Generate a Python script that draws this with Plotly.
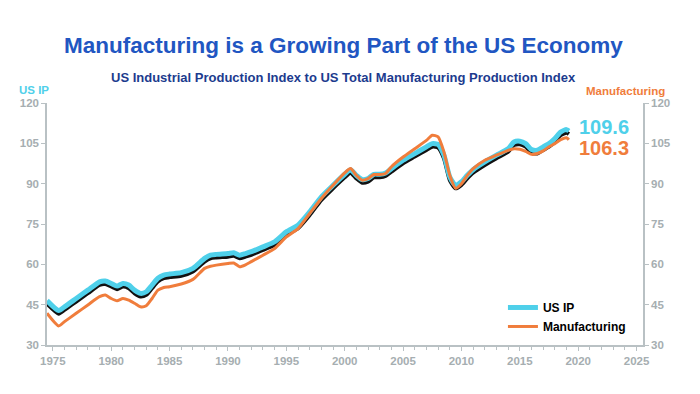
import plotly.graph_objects as go

years = [1974.5, 1975.5, 1976, 1977, 1978, 1979, 1979.5, 1980, 1980.5, 1981, 1981.5, 1982, 1982.5,
         1983, 1983.5, 1984, 1984.5, 1985, 1986, 1987, 1988, 1988.5, 1989, 1990, 1990.5, 1991, 1991.5,
         1992, 1993, 1994, 1995, 1996, 1997, 1998, 1999, 2000, 2000.5, 2001, 2001.5, 2002, 2002.5,
         2003, 2003.5, 2004, 2005, 2006, 2007, 2007.5, 2008, 2008.5, 2009, 2009.5, 2010, 2010.5,
         2011, 2012, 2013, 2014, 2014.5, 2015, 2015.5, 2016, 2016.5, 2017, 2017.5, 2018, 2018.5,
         2019, 2019.2]

us_ip = [46.5, 42.8, 44.2, 47.3, 50.4, 53.5, 53.8, 52.9, 51.9, 52.9, 52.3, 50.4, 49.2,
         49.8, 52.3, 54.8, 56.0, 56.4, 56.9, 58.5, 62.2, 63.4, 63.7, 64.0, 64.3, 63.4, 64.0,
         64.7, 66.5, 68.4, 72.1, 74.6, 79.5, 85.1, 89.4, 93.5, 95.2, 93.1, 91.5, 91.9, 93.5,
         93.5, 94.0, 95.6, 98.7, 101.2, 103.7, 104.9, 104.6, 100.6, 92.5, 89.4, 90.7, 93.1,
         95.2, 98.1, 100.6, 103.0, 105.5, 105.8, 104.9, 102.7, 102.4, 103.7, 104.9, 106.8, 109.2,
         110.1, 109.6]

manufacturing = [41.8, 37.1, 38.7, 41.8, 44.9, 48.0, 48.6, 47.3, 46.5, 47.3, 46.7, 45.5, 44.2,
                 44.6, 47.3, 50.4, 51.4, 51.7, 52.7, 54.4, 58.5, 59.3, 59.7, 60.3, 60.5, 59.1, 59.8,
                 61.0, 63.4, 65.9, 70.2, 73.3, 78.9, 84.5, 89.4, 94.0, 95.6, 93.1, 91.3, 91.9, 93.4,
                 93.4, 93.8, 96.3, 99.9, 103.0, 106.1, 108.0, 107.4, 101.8, 93.1, 88.3, 90.0, 93.1,
                 95.6, 98.7, 100.6, 102.4, 103.0, 102.8, 102.0, 100.9, 101.2, 102.2, 103.7, 104.9, 106.4,
                 107.1, 106.3]

x_ticks = [1975, 1980, 1985, 1990, 1995, 2000, 2005, 2010, 2015, 2020, 2025]
y_ticks = [30, 45, 60, 75, 90, 105, 120]

CYAN = "#4fd0ea"
ORANGE = "#f07d3c"
GRAY = "#a6aeb1"
AXIS = "#b9c1c4"
FONT = "Liberation Sans, Arial, sans-serif"

fig = go.Figure()

# shadow under the US IP line: same data, drawn on a hidden base axis whose range is slightly shifted
fig.add_trace(go.Scatter(x=years, y=us_ip, mode="lines", yaxis="y", showlegend=False,
                         line=dict(color="#111111", width=4, shape="spline", smoothing=0.6),
                         hoverinfo="skip"))
fig.add_trace(go.Scatter(x=years, y=us_ip, mode="lines", name="US IP", yaxis="y2",
                         line=dict(color=CYAN, width=5, shape="spline", smoothing=0.6)))
fig.add_trace(go.Scatter(x=years, y=manufacturing, mode="lines", name="Manufacturing", yaxis="y3",
                         line=dict(color=ORANGE, width=3, shape="spline", smoothing=0.6)))

tickfont = dict(family=FONT, size=11.5, color=GRAY, weight="bold")
yaxis_common = dict(range=[30, 120], tickvals=y_ticks, showgrid=False, zeroline=False,
                    showline=True, linecolor=AXIS, linewidth=1.5, ticks="outside",
                    ticklen=4, tickcolor=AXIS, tickfont=tickfont)

fig.update_layout(
    width=700, height=394,
    margin=dict(l=47, r=57, t=103, b=49),
    paper_bgcolor="white", plot_bgcolor="white",
    xaxis=dict(range=[1974.5, 2025.55], tickvals=x_ticks, showgrid=False, zeroline=False,
               showline=True, linecolor=AXIS, linewidth=1.5, ticks="outside", ticklen=4,
               tickcolor=AXIS, tickfont=tickfont,
               minor=dict(dtick=1, tick0=1975, ticks="outside", ticklen=3, tickcolor=AXIS)),
    yaxis=dict(range=[31.15, 121.15], visible=False, showgrid=False, zeroline=False),
    yaxis2=dict(side="left", overlaying="y", **yaxis_common),
    yaxis3=dict(side="right", overlaying="y", **yaxis_common),
    legend=dict(x=0.765, y=0.215, xanchor="left", yanchor="top", bgcolor="rgba(0,0,0,0)",
                font=dict(family=FONT, size=12, color="black", weight="bold"),
                tracegroupgap=0, itemwidth=30),
    showlegend=True,
)

fig.add_annotation(text="Manufacturing is a Growing Part of the US Economy", xref="paper", yref="paper",
                   x=0.5, y=1, yanchor="middle", xshift=-2, yshift=58, showarrow=False,
                   font=dict(family=FONT, size=22.5, color="#2156c2", weight="bold"))
fig.add_annotation(text="US Industrial Production Index to US Total Manufacturing Production Index",
                   xref="paper", yref="paper", x=0.5, y=1, yanchor="middle", xshift=-2, yshift=26,
                   showarrow=False,
                   font=dict(family=FONT, size=13, color="#1c3b8e", weight="bold"))
fig.add_annotation(text="US IP", xref="paper", yref="paper", x=0, y=1, xanchor="left", yanchor="middle",
                   xshift=-30, yshift=13, showarrow=False,
                   font=dict(family=FONT, size=11.5, color=CYAN, weight="bold"))
fig.add_annotation(text="Manufacturing", xref="paper", yref="paper", x=1, y=1, xanchor="right",
                   yanchor="middle", xshift=24, yshift=12, showarrow=False,
                   font=dict(family=FONT, size=11.5, color=ORANGE, weight="bold"))

fig.add_annotation(text=f"{us_ip[-1]:.1f}", x=years[-1], y=us_ip[-1], yref="y2", xanchor="left",
                   xshift=8, yshift=4, showarrow=False,
                   font=dict(family=FONT, size=20, color=CYAN, weight="bold"))
fig.add_annotation(text=f"{manufacturing[-1]:.1f}", x=years[-1], y=manufacturing[-1], yref="y3",
                   xanchor="left", xshift=8, yshift=-8, showarrow=False,
                   font=dict(family=FONT, size=20, color=ORANGE, weight="bold"))

fig.write_html("out.html", config={"displayModeBar": False},
               post_script="document.body.style.margin='0';")
